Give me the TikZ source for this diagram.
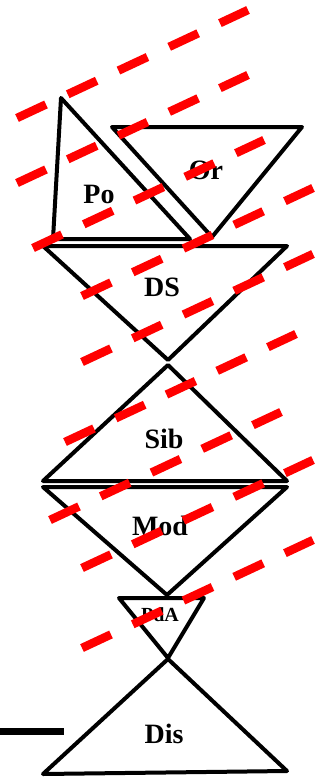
\documentclass[tikz,border=0pt]{standalone}
\usepackage{fontspec}
\setmainfont{Liberation Serif}
\usepackage{tikz}

\begin{document}
\begin{tikzpicture}[x=1pt, y=-1pt, every node/.style={font=\bfseries\fontsize{28}{28}\selectfont, inner sep=0pt}]
    \tikzstyle{tri} = [draw=black, line width=4pt, line join=round]
    \tikzstyle{cut} = [draw=red, line width=8.5pt, dash pattern=on 32pt off 24pt]
    \useasboundingbox (0,0) rectangle (327,784);

    % Triangles
    \draw[tri] (61,98) -- (53,239) -- (190,239) -- cycle;
    \draw[tri] (112,127) -- (302,127) -- (212,237) -- cycle;
    \draw[tri] (43,246) -- (287,246) -- (168,360) -- cycle;
    \draw[tri] (168,365) -- (287,481) -- (43,481) -- cycle;
    \draw[tri] (43,487) -- (287,487) -- (167,595) -- cycle;
    \draw[tri] (119,598) -- (204,598) -- (168,658) -- cycle;
    \draw[tri] (168,659) -- (287,771) -- (43,774) -- cycle;
    \draw[black, line width=7pt] (0,731) -- (64,731);

    % Labels
    \node (po) at (99,194) {Po};
    \node (or) at (206,170) {Or};
    \node (ds) at (162,287) {DS};
    \node (sib) at (164,439) {Sib};
    \node (mod) at (160,526) {Mod};
    \node[font=\bfseries\fontsize{20}{20}\selectfont] (pda) at (160,615) {PdA};
    \node (dis) at (164,734) {Dis};

    % Red cut lines
    \foreach \sx/\sy in {17/118, 17/183, 33/248, 82/296, 82/362, 65/442, 50/520, 82/568, 82/648}
        \draw[cut] (\sx,\sy) -- ++(231,-108);
\end{tikzpicture}
\end{document}
